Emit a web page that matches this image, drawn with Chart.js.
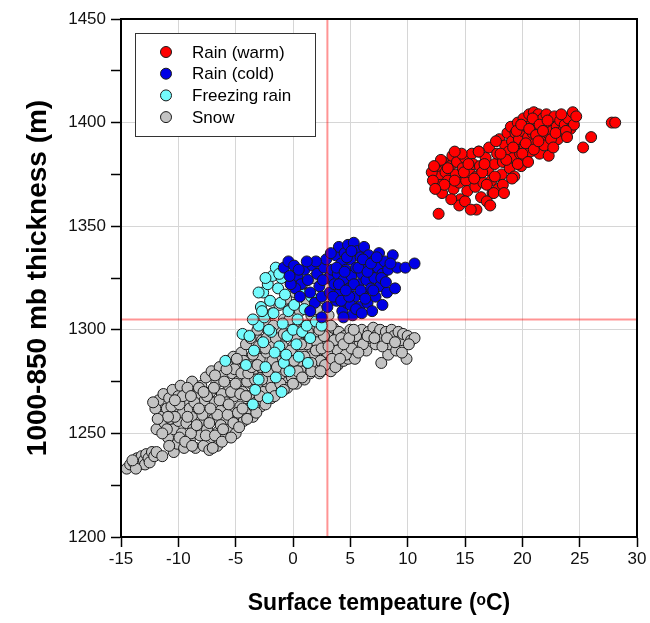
<!DOCTYPE html>
<html>
<head>
<meta charset="utf-8">
<script src="https://cdn.jsdelivr.net/npm/chart.js@4.4.1/dist/chart.umd.min.js"></script>
<style>
html,body{margin:0;padding:0;background:#fff;}
canvas{display:block;}
</style>
</head>
<body>
<canvas id="c" width="650" height="623"></canvas>
<script>
// ---- data (surface temperature °C, 1000-850 mb thickness m) ----
const seriesLabels = ["Rain (warm)", "Rain (cold)", "Freezing rain", "Snow"];
const xTicks = [-15, -10, -5, 0, 5, 10, 15, 20, 25, 30];
const yTicks = [1200, 1250, 1300, 1350, 1400, 1450];
const thresholdTemp = 3;
const thresholdThickness = 1305;

const rainWarm = [
[12.6,1378],[12.8,1374],[12.9,1370],[13.1,1381],[13.3,1376],[13.0,1366],[13.5,1372],[13.7,1379],[13.9,1384],[14.0,1368],
[14.2,1375],[14.3,1381],[14.5,1371],[14.6,1363],[14.8,1378],[15.0,1383],[15.1,1372],[15.2,1367],[15.4,1376],[15.6,1385],
[15.7,1380],[15.9,1369],[16.0,1374],[16.2,1386],[16.3,1379],[16.4,1364],[16.6,1371],[16.8,1383],[17.0,1377],[17.1,1388],
[17.3,1372],[17.4,1366],[17.6,1380],[17.8,1385],[17.9,1368],[18.0,1392],[18.2,1375],[18.3,1381],[18.5,1389],[18.7,1395],
[18.8,1386],[18.9,1378],[19.0,1398],[19.1,1391],[19.2,1383],[19.3,1374],[19.4,1395],[19.5,1388],[19.6,1400],[19.7,1392],
[19.8,1385],[19.9,1379],[20.0,1396],[20.1,1402],[20.2,1389],[20.3,1383],[20.4,1398],[20.5,1393],[20.6,1404],[20.7,1386],
[20.8,1399],[20.9,1395],[21.0,1405],[21.1,1390],[21.2,1401],[21.3,1396],[21.4,1404],[21.5,1385],[21.6,1398],[21.7,1393],
[21.8,1402],[21.9,1389],[22.0,1399],[22.1,1404],[22.2,1395],[22.3,1384],[22.4,1400],[22.6,1396],[22.8,1403],[23.0,1398],
[23.1,1392],[23.3,1401],[23.5,1396],[23.7,1399],[24.0,1402],[24.2,1397],[24.4,1405],[24.5,1399],[25.3,1388],[26.0,1393],
[27.8,1400],[28.1,1400],[12.7,1356],[14.5,1360],[15.0,1362],[16.0,1358],[17.5,1366],
[19.2,1388],[19.5,1396],[19.9,1399],[20.3,1390],[20.6,1397],[20.9,1402],[21.2,1394],[21.5,1399],[21.8,1396],[22.2,1401],
[22.5,1392],[22.9,1395],[23.4,1404],[23.8,1396],[21.0,1387],[20.0,1385],[18.6,1382],[17.6,1374],[16.9,1370],[16.5,1376],
[15.8,1373],[14.9,1376],[14.1,1372],[13.5,1378],[12.9,1382],[13.2,1370],[15.3,1380],[16.7,1380],[18.3,1370],[13.8,1363],
[15.5,1358],[17.7,1391],[16.2,1386],[19.1,1373],[18.4,1366],[12.1,1376],[12.2,1372],[12.3,1379],[12.4,1368],[14.7,1385],
[16.9,1362],[18.1,1385],[19.6,1380],[20.5,1381],[21.4,1391],[22.7,1388],[23.9,1393],[24.7,1403],[17.2,1360],[14.1,1386]
];

const rainCold = [
[-0.8,1330],[-0.4,1333],[0.1,1331],[0.4,1326],[0.7,1322],[0.2,1320],[1.0,1329],[1.3,1324],[1.5,1318],[1.7,1331],
[1.9,1313],[2.1,1327],[2.3,1321],[2.5,1316],[2.7,1330],[2.9,1334],[3.1,1325],[3.2,1318],[3.0,1311],[3.4,1329],
[3.6,1322],[3.7,1336],[3.8,1314],[3.9,1327],[4.0,1340],[4.1,1318],[4.2,1332],[4.3,1309],[4.4,1324],[4.5,1337],
[4.6,1329],[4.7,1313],[4.8,1341],[4.9,1320],[5.0,1334],[5.1,1326],[5.2,1307],[5.3,1342],[5.4,1316],[5.5,1330],
[5.6,1338],[5.7,1322],[5.8,1311],[5.9,1335],[6.0,1327],[6.1,1318],[6.2,1340],[6.3,1331],[6.4,1324],[6.5,1313],
[6.6,1336],[6.7,1328],[6.8,1320],[7.0,1333],[7.1,1325],[7.2,1316],[7.4,1330],[7.5,1337],[7.6,1321],[7.8,1327],
[8.0,1333],[8.2,1318],[8.3,1329],[8.7,1336],[8.9,1320],[9.1,1330],[9.8,1330],[10.6,1332],[2.5,1306],[1.5,1309],
[-0.2,1322],[0.6,1316],[5.0,1312],[6.9,1309],[7.8,1312],[4.4,1306],
[3.5,1316],[3.8,1330],[4.0,1322],[4.2,1314],[4.5,1328],[4.7,1335],[4.9,1316],[5.1,1338],[5.3,1322],[5.5,1310],
[5.7,1330],[5.9,1319],[6.1,1334],[6.3,1315],[6.5,1328],[6.8,1332],[7.0,1319],[7.3,1335],[7.7,1325],[8.1,1323],
[8.5,1332],[6.0,1308],[4.6,1319],[3.3,1337],[2.0,1333],[1.2,1333],[0.5,1329],[-0.3,1326],[2.6,1324]
];

const freezingRain = [
[-5.9,1285],[-4.4,1298],[-3.8,1297],[-4.1,1283],[-3.5,1264],[-3.3,1271],[-2.2,1267],[-3.0,1276],[-1.5,1277],[-0.8,1284],
[1.3,1284],[-2.4,1282],[-3.0,1302],[-2.8,1311],[-2.6,1318],[-2.5,1306],[-2.2,1322],[-2.0,1314],[-1.8,1326],[-1.5,1330],
[-1.7,1308],[-1.3,1320],[-1.1,1313],[-1.0,1325],[-0.9,1303],[-0.7,1317],[-0.5,1297],[-0.4,1309],[-0.2,1322],[0.0,1300],
[0.1,1312],[0.3,1293],[0.4,1305],[0.6,1318],[0.8,1299],[1.0,1310],[1.2,1302],[1.5,1296],[2.0,1304],[2.5,1302],
[-1.9,1299],[-1.2,1292],[-0.6,1288],[-2.6,1294],[-1.6,1289],[-3.4,1290],[0.5,1287],[-0.3,1280],[-1.0,1270],[-2.7,1309],
[-3.5,1305],[-2.1,1300],[-0.1,1328],[-1.2,1327],[0.5,1324],[1.6,1316],[-2.4,1325],[-3.0,1318]
];

const snow = [
[-14.5,1233],[-14.2,1235],[-13.9,1236],[-13.6,1238],[-13.4,1235],[-13.2,1239],[-13.0,1237],[-12.8,1240],[-12.9,1235],[-12.6,1238],
[-12.3,1241],[-12.5,1236],[-12.1,1239],[-11.9,1241],[-11.4,1239],[-13.7,1233],[-14.0,1237],[-11.9,1252],
[-11.6,1262],[-11.7,1266],[-11.5,1258],[-11.3,1269],[-11.2,1255],[-11.0,1262],[-10.9,1248],[-10.8,1267],[-10.7,1257],[-10.5,1271],
[-10.4,1241],[-10.4,1252],[-10.2,1262],[-10.1,1245],[-10.0,1268],[-10.0,1256],[-9.8,1273],[-9.7,1250],[-9.6,1260],[-9.5,1243],
[-9.4,1266],[-9.3,1255],[-9.1,1270],[-9.0,1247],[-9.0,1262],[-8.8,1275],[-8.7,1252],[-8.6,1258],[-8.5,1243],[-8.4,1268],
[-8.3,1262],[-8.1,1249],[-8.0,1273],[-8.0,1256],[-7.8,1244],[-7.7,1266],[-7.6,1277],[-7.5,1252],[-7.4,1260],[-7.3,1242],
[-7.2,1270],[-7.1,1280],[-7.0,1248],[-6.9,1257],[-6.8,1265],[-6.7,1274],[-6.6,1244],[-6.5,1251],[-6.4,1282],[-6.3,1261],
[-6.2,1269],[-6.1,1278],[-6.0,1248],[-5.9,1256],[-5.8,1265],[-5.7,1285],[-5.6,1273],[-5.5,1252],[-5.4,1260],[-5.3,1279],
[-5.2,1287],[-5.1,1268],[-5.0,1250],[-4.9,1256],[-4.8,1275],[-4.7,1283],[-4.6,1263],[-4.5,1289],[-4.4,1270],[-4.3,1256],
[-4.2,1278],[-4.1,1293],[-4.0,1262],[-3.9,1285],[-3.8,1268],[-3.7,1296],[-3.6,1274],[-3.5,1258],[-3.4,1281],[-3.3,1290],
[-3.2,1265],[-3.1,1300],[-3.0,1272],[-2.9,1286],[-2.8,1263],[-2.7,1295],[-2.6,1278],[-2.5,1268],[-2.4,1304],[-2.3,1289],
[-2.2,1274],[-2.1,1298],[-2.0,1282],[-1.9,1267],[-1.8,1308],[-1.7,1293],[-1.6,1276],[-1.5,1286],[-1.4,1300],[-1.3,1270],
[-1.2,1312],[-1.1,1281],[-1.0,1295],[-0.9,1275],[-0.8,1305],[-0.7,1289],[-0.6,1315],[-0.5,1272],[-0.4,1298],[-0.3,1283],
[-0.2,1310],[-0.1,1277],[0.0,1292],[0.1,1303],[0.2,1318],[0.3,1274],[0.4,1286],[0.5,1297],[0.6,1309],[0.7,1280],
[0.8,1322],[0.9,1290],[1.0,1276],[1.1,1302],[1.2,1314],[1.3,1284],[1.4,1295],[1.5,1279],[1.6,1307],[1.7,1290],
[1.8,1325],[1.9,1282],[2.0,1298],[2.1,1310],[2.2,1286],[2.3,1279],[2.4,1294],[2.5,1303],[2.6,1284],[2.7,1315],
[2.8,1290],[2.9,1281],[3.0,1298],[3.1,1307],[3.2,1286],[3.3,1280],[3.4,1293],[3.5,1301],[3.6,1288],[3.8,1296],
[3.9,1283],[4.0,1299],[4.2,1290],[4.4,1285],[4.5,1297],[4.7,1293],[4.8,1286],[5.0,1300],[5.2,1295],[5.4,1286],
[5.6,1298],[5.8,1293],[6.0,1300],[6.2,1295],[6.4,1290],[6.6,1299],[6.8,1296],[7.0,1301],[7.2,1293],[7.4,1298],
[7.6,1300],[7.7,1284],[7.9,1296],[8.1,1299],[8.3,1288],[8.4,1293],[8.6,1300],[8.8,1297],[9.0,1290],[9.2,1299],
[9.4,1295],[9.6,1298],[9.9,1286],[10.0,1297],[10.3,1295],[10.6,1296],
[-11.0,1252],[-10.6,1263],[-10.3,1258],[-9.9,1264],[-9.6,1268],[-9.2,1258],[-8.9,1250],[-8.6,1265],[-8.2,1272],[-7.9,1259],
[-7.5,1268],[-7.3,1255],[-6.9,1272],[-6.6,1259],[-6.3,1254],[-6.0,1275],[-5.7,1259],[-5.4,1270],[-5.1,1281],[-4.8,1260],
[-4.6,1269],[-4.3,1285],[-4.0,1275],[-3.8,1262],[-3.5,1288],[-3.3,1276],[-3.0,1292],[-2.8,1282],[-2.6,1270],[-2.3,1296],
[-2.0,1276],[-1.8,1285],[-1.5,1296],[-1.2,1290],[-1.0,1279],[-0.8,1298],[-0.5,1287],[-0.3,1305],[0.0,1281],[0.3,1296],
[0.6,1285],[0.9,1299],[1.2,1293],[1.5,1302],[1.8,1288],[2.1,1294],[2.4,1285],[2.7,1297],[3.0,1289],[3.3,1302],
[3.6,1295],[3.9,1290],[4.2,1296],[4.6,1288],[5.1,1291],[5.5,1297],[6.1,1293],[6.5,1297],[7.1,1296],[7.8,1292],
[8.2,1296],[8.9,1294],[9.5,1289],[10.1,1293],
[-11.4,1250],[-10.8,1244],[-10.9,1258],[-10.3,1266],[-9.9,1248],[-9.4,1246],[-9.2,1272],[-8.9,1268],[-8.8,1244],[-8.4,1254],
[-8.2,1262],[-7.8,1270],[-7.6,1249],[-7.2,1262],[-6.8,1249],[-6.8,1278],[-6.4,1266],[-6.1,1252],[-5.8,1281],[-5.6,1264],
[-5.2,1255],[-5.0,1274],[-4.9,1286],[-4.5,1279],[-4.4,1262],[-4.1,1268],[-3.9,1279],[-3.6,1282],[-3.4,1263],[-3.1,1283],
[-2.9,1268],[-2.7,1276],[-2.4,1291],[-2.2,1280],[-1.9,1272],[-1.7,1302],[-1.4,1282],[-1.1,1274],[-0.9,1292],[-0.6,1280],
[-0.2,1290],[0.1,1285],[0.4,1280],[0.7,1293],[1.0,1287],[1.3,1299],[1.6,1284],[2.0,1290],[2.3,1300],[2.5,1291],
[2.8,1283],[3.1,1292],[3.4,1286],[3.7,1282],[4.1,1286],[4.4,1293],[4.9,1296],[5.3,1300],[5.7,1289],[-12.0,1262],
[-11.8,1257],[-12.2,1265],[-7.0,1243],[-6.2,1246],[-5.4,1248],[-4.7,1253],[-4.0,1257],[-3.2,1260],[-2.4,1264],[-1.6,1268],
[-0.8,1271],[0.0,1274],[0.8,1277],[1.6,1280],[2.4,1280]
];

// ---- styles ----
const seriesColors = ["#ff0000", "#0000e6", "#73fafc", "#c3c3c3"];
const FONT = "'Liberation Sans', Arial, sans-serif";

function toPts(arr){ return arr.map(p => ({x:p[0], y:p[1]})); }
const seriesData = [rainWarm, rainCold, freezingRain, snow];

const datasets = seriesData.map((d, i) => ({
  label: seriesLabels[i],
  data: toPts(d),
  backgroundColor: seriesColors[i],
  borderColor: "#1a1a1a",
  borderWidth: 1,
  pointRadius: 5.5,
  pointHoverRadius: 5.5
}));

const refLines = {
  id: "refLines",
  afterDatasetsDraw(chart){
    const {ctx, chartArea:a, scales:{x, y}} = chart;
    ctx.save();
    ctx.strokeStyle = "rgba(255,0,0,0.42)";
    ctx.lineWidth = 2;
    const px = x.getPixelForValue(thresholdTemp);
    const py = y.getPixelForValue(thresholdThickness);
    ctx.beginPath();
    ctx.moveTo(px, a.top); ctx.lineTo(px, a.bottom);
    ctx.moveTo(a.left, py); ctx.lineTo(a.right, py);
    ctx.stroke();
    ctx.restore();
  }
};

const frame = {
  id: "frame",
  afterDraw(chart){
    const {ctx, chartArea:a} = chart;
    ctx.save();
    ctx.strokeStyle = "#000";
    ctx.lineWidth = 2;
    ctx.strokeRect(a.left, a.top, a.right - a.left, a.bottom - a.top);
    ctx.restore();
  }
};

const boxLegend = {
  id: "boxLegend",
  afterDraw(chart){
    const {ctx} = chart;
    const bx = 135, by = 33, bw = 180, bh = 103;
    ctx.save();
    ctx.fillStyle = "#fff";
    ctx.fillRect(bx, by, bw, bh);
    ctx.strokeStyle = "#333";
    ctx.lineWidth = 1;
    ctx.strokeRect(bx + 0.5, by + 0.5, bw, bh);
    ctx.font = "17px " + FONT;
    ctx.textBaseline = "middle";
    chart.data.datasets.forEach((ds, i) => {
      const cy = by + 19 + i * 21.7;
      ctx.beginPath();
      ctx.arc(bx + 31, cy, 5.5, 0, Math.PI * 2);
      ctx.fillStyle = ds.backgroundColor;
      ctx.fill();
      ctx.strokeStyle = "#1a1a1a";
      ctx.lineWidth = 1;
      ctx.stroke();
      ctx.fillStyle = "#000";
      ctx.fillText(ds.label, bx + 57, cy + 1);
    });
    ctx.restore();
  }
};

new Chart(document.getElementById("c"), {
  type: "scatter",
  data: { datasets },
  options: {
    responsive: false,
    animation: false,
    events: [],
    layout: { padding: { top: 19, right: 13, left: 0, bottom: 0 } },
    plugins: { legend: { display: false }, tooltip: { enabled: false } },
    scales: {
      x: {
        type: "linear",
        min: xTicks[0], max: xTicks[xTicks.length - 1],
        afterBuildTicks(s){ s.ticks = xTicks.map(v => ({value: v})); },
        afterFit(s){ s.height = 86; },
        grid: { color: "#d6d6d6", lineWidth: 1, tickColor: "#000", tickLength: 10, tickWidth: 1.5 },
        border: { display: true, color: "#000", width: 2 },
        ticks: { color: "#111", font: { family: FONT, size: 17 }, padding: 2, maxRotation: 0 },
        title: {
          display: true,
          text: "Surface tempeature (\u1D52C)",
          color: "#000",
          font: { family: FONT, size: 23, weight: "bold" },
          padding: { top: 0, bottom: 6 }
        }
      },
      y: {
        type: "linear",
        min: yTicks[0], max: yTicks[yTicks.length - 1],
        afterBuildTicks(s){
          const t = [];
          for (let i = 0; i < yTicks.length; i++) {
            t.push({value: yTicks[i]});
            if (i < yTicks.length - 1) t.push({value: (yTicks[i] + yTicks[i+1]) / 2});
          }
          s.ticks = t;
        },
        afterFit(s){ s.width = 121; },
        grid: {
          color: (c) => (c.tick && yTicks.includes(c.tick.value)) ? "#d6d6d6" : "rgba(0,0,0,0)",
          lineWidth: 1, tickColor: "#000", tickLength: 10, tickWidth: 1.5
        },
        border: { display: true, color: "#000", width: 2 },
        ticks: {
          color: "#111", font: { family: FONT, size: 17 }, padding: 5,
          callback: (v) => yTicks.includes(v) ? String(v) : ""
        },
        title: {
          display: true,
          text: "1000-850 mb thickness (m)",
          color: "#000",
          font: { family: FONT, size: 28, weight: "bold" },
          padding: { top: 21, bottom: 0 }
        }
      }
    }
  },
  plugins: [refLines, frame, boxLegend]
});
</script>
</body>
</html>
